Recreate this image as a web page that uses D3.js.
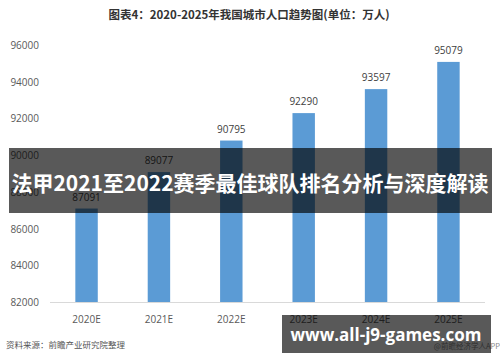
<!DOCTYPE html>
<html lang="zh">
<head>
<meta charset="UTF-8">
<title>2020-2025年我国城市人口趋势图</title>
<style>
    body { margin: 0; padding: 0; background: #fff; }
    svg { display: block; font-family: "Noto Sans CJK SC", "Open Sans", sans-serif; }
</style>
</head>
<body>
<svg width="500" height="362"></svg>
<script src="https://d3js.org/d3.v7.min.js"></script>
<script>
    // chart data
    const years = ["2020E", "2021E", "2022E", "2023E", "2024E", "2025E"];
    const population = [87091, 89077, 90795, 92290, 93597, 95079];
    const yTicks = [82000, 84000, 86000, 88000, 90000, 92000, 94000, 96000];

    const title = "图表4：2020-2025年我国城市人口趋势图(单位：万人)";
    const banner = "法甲2021至2022赛季最佳球队排名分析与深度解读";
    const source = "资料来源：前瞻产业研究院整理";
    const url = "www.all-j9-games.com";

    const svg = d3.select("svg");

    const x = d3.scaleBand().domain(years).range([50, 485]).paddingInner(0.69).paddingOuter(0.35);
    const y = d3.scaleLinear().domain([82000, 96000]).range([302, 45]);

    // title
    svg.append("text")
        .attr("x", 249).attr("y", 19)
        .attr("text-anchor", "middle")
        .attr("font-size", 11.5).attr("font-weight", "bold")
        .attr("fill", "#333")
        .text(title);

    // y labels (no axis line)
    svg.selectAll(".ytick")
        .data(yTicks)
        .enter().append("text")
        .attr("class", "ytick")
        .attr("x", 39)
        .attr("y", d => y(d) + 4)
        .attr("text-anchor", "end")
        .attr("font-family", "Open Sans, sans-serif")
        .attr("font-size", 10)
        .attr("fill", "#595959")
        .text(d => d);

    // baseline
    svg.append("line")
        .attr("x1", 50).attr("x2", 485)
        .attr("y1", y(82000) + 0.5).attr("y2", y(82000) + 0.5)
        .attr("stroke", "#d9d9d9");

    // bars
    svg.selectAll(".bar")
        .data(population)
        .enter().append("rect")
        .attr("class", "bar")
        .attr("x", (d, i) => x(years[i]))
        .attr("width", x.bandwidth())
        .attr("y", d => y(d))
        .attr("height", d => y(82000) - y(d))
        .attr("fill", "#5b9bd5");

    // value labels
    svg.selectAll(".val")
        .data(population)
        .enter().append("text")
        .attr("class", "val")
        .attr("x", (d, i) => x(years[i]) + x.bandwidth() / 2)
        .attr("y", d => y(d) - 8)
        .attr("text-anchor", "middle")
        .attr("font-family", "Open Sans, sans-serif")
        .attr("font-size", 10)
        .attr("fill", "#404040")
        .text(d => d);

    // x labels
    svg.selectAll(".xlab")
        .data(years)
        .enter().append("text")
        .attr("class", "xlab")
        .attr("x", d => x(d) + x.bandwidth() / 2)
        .attr("y", 323)
        .attr("text-anchor", "middle")
        .attr("font-family", "Open Sans, sans-serif")
        .attr("font-size", 10)
        .attr("fill", "#595959")
        .text(d => d);

    // source note
    svg.append("text")
        .attr("x", 6).attr("y", 348)
        .attr("font-size", 8.5)
        .attr("fill", "#555")
        .text(source);

    svg.append("text")
        .attr("x", 500).attr("y", 349)
        .attr("text-anchor", "end")
        .attr("font-size", 7.5)
        .attr("fill", "#888")
        .text("@前瞻经济学人APP");

    // overlay banner
    svg.append("rect")
        .attr("x", 9).attr("y", 148)
        .attr("width", 483).attr("height", 65)
        .attr("fill", "#000").attr("fill-opacity", 0.65);

    svg.append("text")
        .attr("x", 250).attr("y", 191)
        .attr("text-anchor", "middle")
        .attr("font-size", 21).attr("font-weight", "bold")
        .attr("fill", "#fff")
        .text(banner);

    // url box
    svg.append("rect")
        .attr("x", 282).attr("y", 315)
        .attr("width", 209).attr("height", 38)
        .attr("fill", "#000").attr("fill-opacity", 0.65);

    svg.append("text")
        .attr("x", 386).attr("y", 341)
        .attr("text-anchor", "middle")
        .attr("font-family", "Open Sans, sans-serif")
        .attr("font-size", 17).attr("font-weight", "bold")
        .attr("fill", "#fff")
        .text(url);
</script>
</body>
</html>
